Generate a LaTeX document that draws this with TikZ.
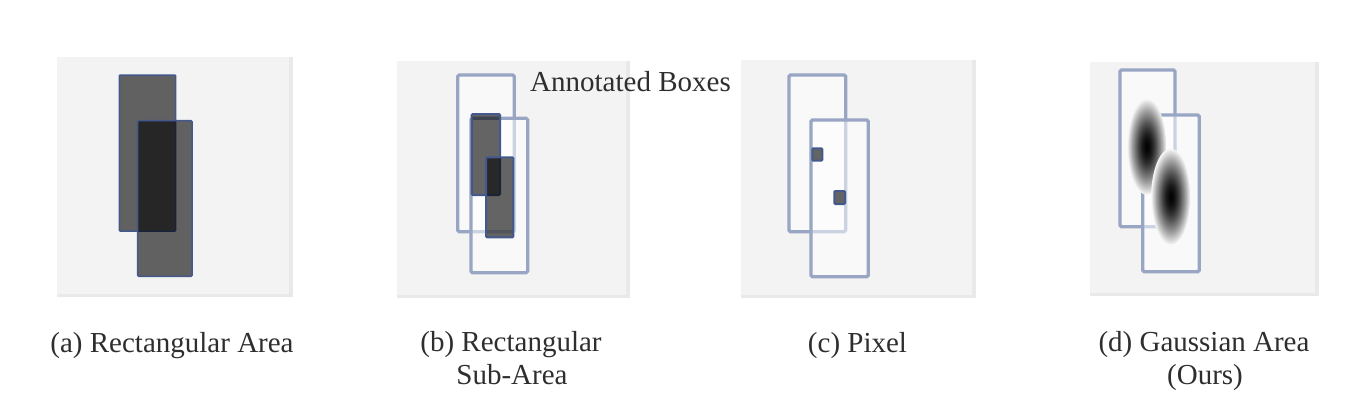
\documentclass[tikz,border=0pt]{standalone}
\usepackage{fontspec}
\setmainfont{Liberation Serif}
\definecolor{panelbg}{HTML}{F3F3F3}
\definecolor{panelsh}{HTML}{E9E9E9}
\definecolor{boxline}{HTML}{98A6C4}
\definecolor{darkline}{HTML}{43588C}
\definecolor{txt}{HTML}{2E2E2E}
\pgfdeclareradialshading{gauss}{\pgfpoint{0bp}{0bp}}{rgb(0bp)=(0,0,0); rgb(2.5bp)=(0.03,0.03,0.03); rgb(6.25bp)=(0.11,0.11,0.11); rgb(9.5bp)=(0.22,0.22,0.22); rgb(12.5bp)=(0.34,0.34,0.34); rgb(16bp)=(0.5,0.5,0.5); rgb(18.75bp)=(0.63,0.63,0.63); rgb(22.5bp)=(0.83,0.83,0.83); rgb(25bp)=(0.97,0.97,0.97); rgb(50bp)=(0.97,0.97,0.97)}
\tikzset{
  panelshadow/.style={fill=panelsh, draw=none},
  panelface/.style={fill=panelbg, draw=none},
  gtbox/.style={draw=boxline, line width=3.3pt, fill=white, fill opacity=0.5, rounded corners=1.5pt},
  areabox/.style={draw=darkline, line width=1.5pt, fill=black, fill opacity=0.6, rounded corners=1pt},
  subbox/.style={draw=darkline, line width=2pt, fill=black, fill opacity=0.6, rounded corners=1pt},
  gaussblob/.style={shading=gauss},
  captext/.style={text=txt, font=\fontsize{29}{34}\selectfont, anchor=base, inner sep=0pt}
}
\begin{document}
\begin{tikzpicture}[x=1pt,y=-1pt]
\useasboundingbox (0,0) rectangle (1358,416);
% ---------- panel (a)
\fill[panelshadow] (57,57) rectangle (293,297);
\fill[panelface] (57,57) rectangle (289,294);
\draw[areabox] (119.3,75) rectangle (175.7,231);
\draw[areabox] (137.7,120.7) rectangle (192,276.3);
% ---------- panel (b)
\fill[panelshadow] (397,61) rectangle (630,298);
\fill[panelface] (397,61) rectangle (626,295);
\draw[gtbox] (457.7,75) rectangle (514.3,231.7);
\draw[gtbox] (471,118.3) rectangle (527.7,272.7);
\draw[subbox] (471.7,114) rectangle (500,195);
\draw[subbox] (486,157.3) rectangle (513.3,237.3);
% ---------- panel (c)
\fill[panelshadow] (741,60) rectangle (976,298);
\fill[panelface] (741,60) rectangle (972,295);
\draw[gtbox] (789,75) rectangle (845.7,231.7);
\draw[gtbox] (811,120) rectangle (868.3,276.7);
\draw[subbox] (812.3,148.3) rectangle (822.3,160.7);
\draw[subbox] (834.3,191) rectangle (845,204);
% ---------- panel (d)
\fill[panelshadow] (1090,62) rectangle (1319,296);
\fill[panelface] (1090,62) rectangle (1315,293);
\draw[gtbox] (1120,70) rectangle (1175,226.7);
\draw[gtbox] (1142.7,115) rectangle (1199.3,271.7);
\shade[gaussblob] (1146.7,146.7) ellipse [x radius=19.5pt, y radius=48pt];
\shade[gaussblob] (1170.7,196.7) ellipse [x radius=19.5pt, y radius=48pt];
% ---------- texts
\node[captext] (title) at (630.5,91.7) {Annotated Boxes};
\node[captext] (capa) at (172,352.7) {(a) Rectangular Area};
\node[captext] (capb1) at (511,351.7) {(b) Rectangular};
\node[captext] (capb2) at (512,384.7) {Sub-Area};
\node[captext] (capc) at (857.5,352.7) {(c) Pixel};
\node[captext] (capd1) at (1204,351.7) {(d) Gaussian Area};
\node[captext] (capd2) at (1205,384.2) {(Ours)};
\end{tikzpicture}
\end{document}
